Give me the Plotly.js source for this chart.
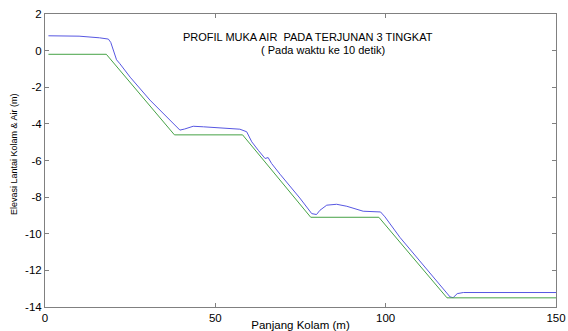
<!DOCTYPE html>
<html>
<head>
<meta charset="utf-8">
<script src="https://cdn.plot.ly/plotly-3.0.1.min.js"></script>
<style>html,body{margin:0;padding:0;background:#fff;}#chart{width:568px;height:331px;}</style>
</head>
<body>
<div id="chart"></div>
<script>
// Water surface (blue)
const airX = [1,10,16,18.6,19.3,20.2,21,22,25,30.8,36.7,38.6,39.6,41,43.5,46.5,51.5,54.5,57.2,59.2,60.7,62.6,64.6,65.5,66.5,69,74.8,78.3,79.7,80.7,82.7,85.6,88.6,93.4,98.5,99.8,101.3,104.2,118.9,119.8,121,122.8,150];
const airY = [0.81,0.79,0.7,0.63,0.45,0.0,-0.5,-0.72,-1.45,-2.7,-3.8,-4.2,-4.34,-4.28,-4.13,-4.16,-4.23,-4.27,-4.29,-4.43,-4.98,-5.44,-5.89,-5.84,-6.16,-6.75,-8.05,-8.9,-8.95,-8.72,-8.44,-8.39,-8.5,-8.77,-8.81,-9.08,-9.44,-10.2,-13.45,-13.49,-13.27,-13.21,-13.21];
// Pool floor (green)
const lantaiX = [1,18,38,58,78,98,118,150];
const lantaiY = [-0.2,-0.2,-4.6,-4.6,-9.1,-9.1,-13.5,-13.5];
// Ticks
const xTicks = [0,50,100,150];
const yTicks = [-14,-12,-10,-8,-6,-4,-2,0,2];
const titleLine1 = 'PROFIL MUKA AIR  PADA TERJUNAN 3 TINGKAT';
const titleLine2 = '( Pada waktu ke 10 detik)';
const xTitle = 'Panjang Kolam (m)';
const yTitle = 'Elevasi Lantai Kolam &amp; Air (m)';

const font = 'Arial, "Liberation Sans", sans-serif';
const traces = [
  {x: airX, y: airY, type: 'scatter', mode: 'lines', line: {color: '#5757e2', width: 1}, hoverinfo: 'skip'},
  {x: lantaiX, y: lantaiY, type: 'scatter', mode: 'lines', line: {color: '#46a246', width: 1}, hoverinfo: 'skip'}
];
const axisCommon = {
  showline: true, linecolor: '#808080', linewidth: 1, mirror: 'ticks',
  ticks: 'inside', ticklen: 4, tickcolor: '#808080', tickwidth: 1,
  showgrid: false, zeroline: false, tickfont: {family: font, size: 11.5, color: '#000'}
};
const layout = {
  width: 568, height: 331,
  margin: {l: 45, r: 12, t: 14, b: 24},
  paper_bgcolor: '#fff', plot_bgcolor: '#fff',
  showlegend: false,
  xaxis: Object.assign({}, axisCommon, {range: [0,150], tickvals: xTicks, ticktext: xTicks.map(String),
    title: {text: xTitle, font: {family: font, size: 11.5, color: '#000'}, standoff: 0}}),
  yaxis: Object.assign({}, axisCommon, {range: [-14,2], tickvals: yTicks, ticktext: yTicks.map(String)}),
  annotations: [
    {xref: 'paper', yref: 'paper', x: 0.515, y: (307-37.5)/293, text: titleLine1, showarrow: false,
     font: {family: font, size: 11, color: '#000'}, xanchor: 'center', yanchor: 'middle'},
    {xref: 'paper', yref: 'paper', x: 0.544, y: (307-50)/293, text: titleLine2, showarrow: false,
     font: {family: font, size: 11, color: '#000'}, xanchor: 'center', yanchor: 'middle'},
    {xref: 'paper', yref: 'paper', x: (14-45)/511, y: (307-154)/293, text: yTitle, showarrow: false, textangle: -90,
     font: {family: font, size: 9, color: '#000'}, xanchor: 'center', yanchor: 'middle'}
  ]
};
Plotly.newPlot('chart', traces, layout, {staticPlot: true, displayModeBar: false});
</script>
</body>
</html>
